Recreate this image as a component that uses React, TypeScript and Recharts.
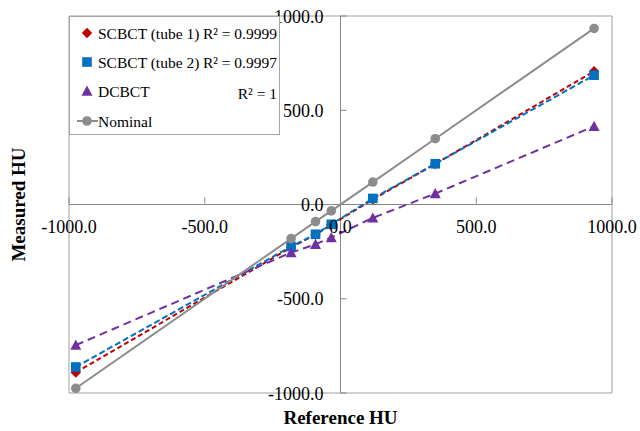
import {
  ComposedChart,
  Scatter,
  XAxis,
  YAxis,
  ReferenceLine,
  ReferenceArea,
  Legend,
  Label,
} from 'recharts';

// reference HU of the inserts (x) and measured HU per series (y)
const referenceHU = [-975, -182, -92, -34, 119, 349, 934];
const tube1HU = [-891, -228, -160, -108, 27, 215, 707];
const tube2HU = [-862, -223, -158, -105, 32, 216, 686];
const dcbctHU = [-746, -255, -211, -175, -71, 58, 415];
const nominalHU = [-975, -181, -91, -34, 119, 349, 934];

const seriesNames = ['SCBCT (tube 1)', 'SCBCT (tube 2)', 'DCBCT', 'Nominal'];
const r2Labels = ['R² = 0.9999', 'R² = 0.9997', 'R² = 1', ''];
const axisTicks = [-1000, -500, 0, 500, 1000];

const W = 640;
const H = 431;
// axes get 1px of room (an axis of size 0 is not drawn)
const M = { top: 16, right: 28, bottom: 37, left: 68 };
const PLOT_W = W - M.left - M.right - 1;
const PLOT_H = H - M.top - M.bottom - 1;

const SERIF = '"Liberation Serif", "Times New Roman", serif';
const AXIS = '#868686';

type Kind = 'diamond' | 'square' | 'triangle' | 'circle';

const toPoints = (ys: number[]) => referenceHU.map((x, i) => ({ x, y: ys[i] }));

function marker(kind: Kind, cx: number, cy: number, color: string) {
  if (kind === 'diamond') {
    const s = 5.2;
    return <polygon points={`${cx},${cy - s} ${cx + s},${cy} ${cx},${cy + s} ${cx - s},${cy}`} fill={color} />;
  }
  if (kind === 'square') {
    const s = 4.8;
    return <rect x={cx - s} y={cy - s} width={s * 2} height={s * 2} fill={color} />;
  }
  if (kind === 'triangle') {
    const s = 5.5;
    return <polygon points={`${cx},${cy - s} ${cx + s},${cy + s * 0.85} ${cx - s},${cy + s * 0.85}`} fill={color} />;
  }
  return <circle cx={cx} cy={cy} r={4.8} fill={color} />;
}

const series = [
  { name: seriesNames[0], data: toPoints(tube1HU), color: '#C00000', kind: 'diamond' as Kind, dash: '5 3' },
  { name: seriesNames[1], data: toPoints(tube2HU), color: '#0070C0', kind: 'square' as Kind, dash: '6 3' },
  { name: seriesNames[2], data: toPoints(dcbctHU), color: '#7030A0', kind: 'triangle' as Kind, dash: '8 5' },
  { name: seriesNames[3], data: toPoints(nominalHU), color: '#8C8C8C', kind: 'circle' as Kind, dash: undefined },
];

const XTick = (props: any) => {
  const { x, y, payload } = props;
  const zy = y - 1 - PLOT_H / 2;
  return (
    <g>
      <line x1={x} x2={x} y1={zy - 6} y2={zy} stroke={AXIS} />
      <text x={x} y={zy + 29} textAnchor="middle" fontSize={18} fontFamily={SERIF} fill="#000">
        {payload.value.toFixed(1)}
      </text>
    </g>
  );
};

const YTick = (props: any) => {
  const { x, y, payload } = props;
  const zx = x + PLOT_W / 2;
  return (
    <g>
      <line x1={zx} x2={zx + 6} y1={y} y2={y} stroke={AXIS} />
      <text x={zx - 17} y={y + 6.5} textAnchor="end" fontSize={18} fontFamily={SERIF} fill="#000">
        {payload.value.toFixed(1)}
      </text>
    </g>
  );
};

const rowTops = [16, 45, 74, 104];

const LegendBox = () => (
  <div
    style={{
      position: 'relative',
      width: 209,
      height: 117,
      border: '1px solid #A6A6A6',
      background: '#fff',
    }}
  >
    <svg width={209} height={117} style={{ position: 'absolute', left: 0, top: 0 }}>
      {series.map((s, i) => (
        <g key={s.name}>
          {s.kind === 'circle' && <line x1={7} x2={28} y1={rowTops[i]} y2={rowTops[i]} stroke={s.color} strokeWidth={2} />}
          {marker(s.kind, 17, rowTops[i], s.color)}
          <text x={28} y={rowTops[i] + 5.5} fontSize={15.5} fontFamily={SERIF} fill="#000">
            {s.name}
          </text>
          <text x={207} y={rowTops[i] + 5.5 + (i === 2 ? 2 : 0)} textAnchor="end" fontSize={15.5} fontFamily={SERIF} fill="#000">
            {r2Labels[i]}
          </text>
        </g>
      ))}
    </svg>
  </div>
);

export default function App() {
  return (
    <div style={{ position: 'absolute', left: 0, top: 0, width: W, height: H, background: '#fff' }}>
      <ComposedChart width={W} height={H} margin={M}>
        <XAxis
          type="number"
          dataKey="x"
          domain={[-1000, 1000]}
          ticks={axisTicks}
          interval={0}
          height={1}
          axisLine={false}
          tickLine={false}
          tickSize={0}
          tickMargin={0}
          tick={<XTick />}
        >
          <Label value="Reference HU" position="bottom" offset={17} fontSize={19} fontWeight="bold" fontFamily={SERIF} fill="#000" />
        </XAxis>
        <YAxis
          type="number"
          dataKey="y"
          domain={[-1000, 1000]}
          ticks={axisTicks}
          interval={0}
          width={1}
          axisLine={false}
          tickLine={false}
          tickSize={0}
          tickMargin={0}
          tick={<YTick />}
        >
          <Label
            content={(p: any) => {
              const vb = p.viewBox || { y: M.top, height: PLOT_H };
              const cy = vb.y + vb.height / 2;
              const cx = 25;
              return (
                <text
                  x={cx}
                  y={cy}
                  transform={`rotate(-90 ${cx} ${cy})`}
                  textAnchor="middle"
                  fontSize={19}
                  fontWeight="bold"
                  fontFamily={SERIF}
                  fill="#000"
                >
                  Measured HU
                </text>
              );
            }}
          />
        </YAxis>
        <ReferenceArea x1={-1000} x2={1000} y1={-1000} y2={1000} fill="none" stroke="#A0A0A0" strokeWidth={1} ifOverflow="visible" />
        <ReferenceLine x={0} stroke={AXIS} strokeWidth={1} />
        <ReferenceLine y={0} stroke={AXIS} strokeWidth={1} />
        {series.map((s) => (
          <Scatter
            key={s.name}
            name={s.name}
            data={s.data}
            fill={s.color}
            line={{ stroke: s.color, strokeWidth: 2, strokeDasharray: s.dash }}
            lineType="joint"
            shape={(p: any) => marker(s.kind, p.cx, p.cy, s.color)}
            isAnimationActive={false}
          />
        ))}
        <Legend
          layout="vertical"
          align="center"
          verticalAlign="middle"
          wrapperStyle={{ left: 69, top: 16, width: 211, height: 119 }}
          content={() => <LegendBox />}
        />
      </ComposedChart>
    </div>
  );
}
